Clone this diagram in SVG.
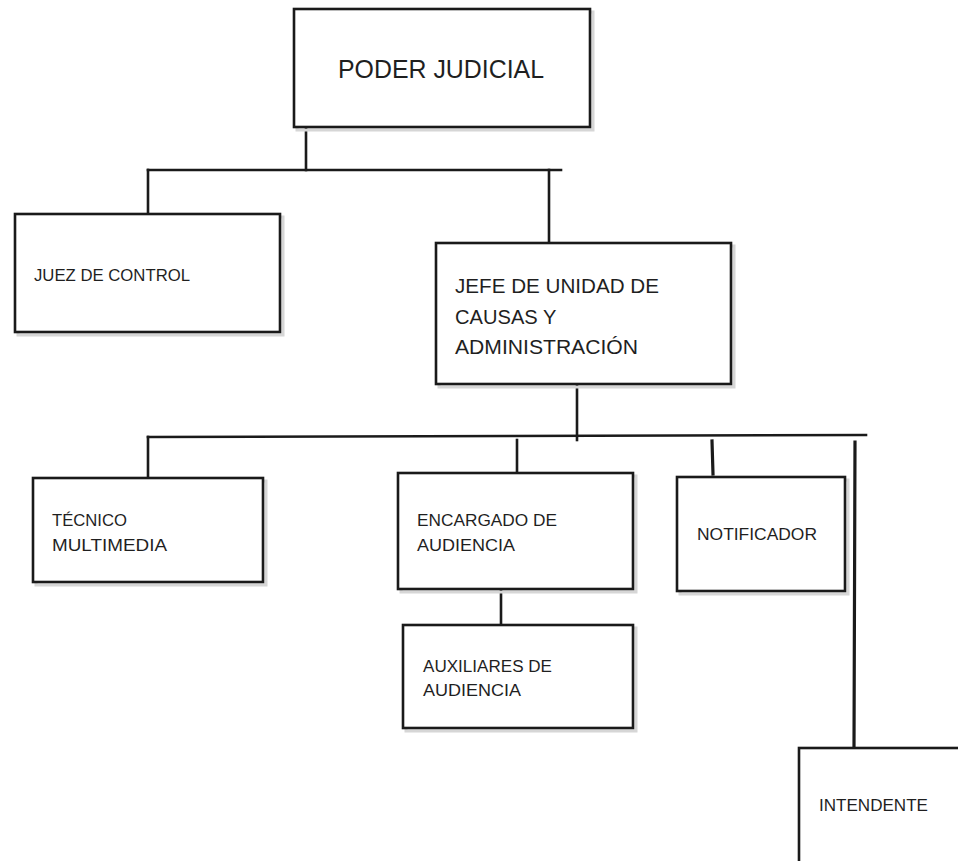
<svg xmlns="http://www.w3.org/2000/svg" width="958" height="861" viewBox="0 0 958 861">
  <style>
    .box { fill: #ffffff; stroke: #1a1a1a; stroke-width: 2.6; }
    .shadow { fill: none; stroke: #d6d6d6; stroke-width: 3; }
    .lbl { font-family: "Liberation Sans", Arial, sans-serif; fill: #1f1f1f; }
    .conn line { stroke: #1a1a1a; stroke-width: 2.6; stroke-linecap: square; }
  </style>
  <rect width="958" height="861" fill="#ffffff"/>

  <!-- connectors -->
  <g id="connectors" class="conn">
    <line x1="306" y1="128" x2="306" y2="170"/>
    <line x1="148" y1="170" x2="561" y2="170"/>
    <line x1="148" y1="170" x2="148" y2="214"/>
    <line x1="549" y1="170" x2="549" y2="243"/>
    <line x1="577" y1="384" x2="577" y2="440"/>
    <line x1="148" y1="437" x2="866" y2="435"/>
    <line x1="148" y1="437" x2="148" y2="478"/>
    <line x1="517" y1="440" x2="517" y2="473"/>
    <line x1="712" y1="441" x2="713" y2="474" style="stroke-width:3.2"/>
    <line x1="855" y1="442" x2="854" y2="748" style="stroke-width:3.2"/>
    <line x1="501" y1="590" x2="501" y2="625"/>
  </g>

  <g id="poder-judicial">
    <rect class="shadow" x="297" y="12" width="296" height="118"/>
    <rect class="box" x="294" y="9" width="296" height="118"/>
    <text class="lbl" x="338" y="78" font-size="26" textLength="206" lengthAdjust="spacingAndGlyphs">PODER JUDICIAL</text>
  </g>

  <g id="juez-de-control">
    <rect class="shadow" x="18" y="217" width="265" height="118"/>
    <rect class="box" x="15" y="214" width="265" height="118"/>
    <text class="lbl" x="34" y="281" font-size="16" textLength="156" lengthAdjust="spacingAndGlyphs">JUEZ DE CONTROL</text>
  </g>

  <g id="jefe-unidad">
    <rect class="shadow" x="439" y="246" width="295" height="141"/>
    <rect class="box" x="436" y="243" width="295" height="141"/>
    <text class="lbl" font-size="19.5" x="455">
      <tspan x="455" y="293" textLength="204" lengthAdjust="spacingAndGlyphs">JEFE DE UNIDAD  DE</tspan>
      <tspan x="455" y="324" textLength="101" lengthAdjust="spacingAndGlyphs">CAUSAS Y</tspan>
      <tspan x="455" y="354" textLength="183" lengthAdjust="spacingAndGlyphs">ADMINISTRACIÓN</tspan>
    </text>
  </g>

  <g id="tecnico-multimedia">
    <rect class="shadow" x="36" y="481" width="230" height="104"/>
    <rect class="box" x="33" y="478" width="230" height="104"/>
    <text class="lbl" font-size="16">
      <tspan x="52" y="526" textLength="75" lengthAdjust="spacingAndGlyphs">TÉCNICO</tspan>
      <tspan x="52" y="551" textLength="115" lengthAdjust="spacingAndGlyphs">MULTIMEDIA</tspan>
    </text>
  </g>

  <g id="encargado-audiencia">
    <rect class="shadow" x="401" y="476" width="235" height="116"/>
    <rect class="box" x="398" y="473" width="235" height="116"/>
    <text class="lbl" font-size="16">
      <tspan x="417" y="526" textLength="140" lengthAdjust="spacingAndGlyphs">ENCARGADO DE</tspan>
      <tspan x="417" y="551" textLength="98" lengthAdjust="spacingAndGlyphs">AUDIENCIA</tspan>
    </text>
  </g>

  <g id="notificador">
    <rect class="shadow" x="680" y="480" width="168" height="114"/>
    <rect class="box" x="677" y="477" width="168" height="114"/>
    <text class="lbl" x="697" y="540" font-size="16" textLength="120" lengthAdjust="spacingAndGlyphs">NOTIFICADOR</text>
  </g>

  <g id="auxiliares-audiencia">
    <rect class="shadow" x="406" y="628" width="230" height="103"/>
    <rect class="box" x="403" y="625" width="230" height="103"/>
    <text class="lbl" font-size="16">
      <tspan x="423" y="672" textLength="129" lengthAdjust="spacingAndGlyphs">AUXILIARES DE</tspan>
      <tspan x="423" y="696" textLength="98" lengthAdjust="spacingAndGlyphs">AUDIENCIA</tspan>
    </text>
  </g>

  <g id="intendente">
    <rect class="box" x="799" y="748" width="170" height="125"/>
    <text class="lbl" x="819" y="811" font-size="16" textLength="109" lengthAdjust="spacingAndGlyphs">INTENDENTE</text>
  </g>
</svg>
